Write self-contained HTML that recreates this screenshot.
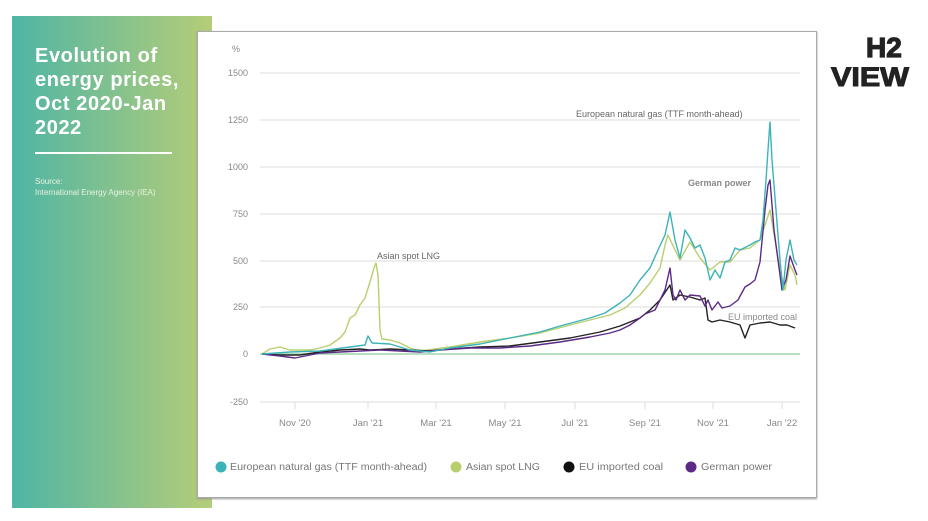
<!DOCTYPE html>
<html><head><meta charset="utf-8"><style>
body{margin:0;width:928px;height:521px;background:#fff;overflow:hidden;font-family:"Liberation Sans",sans-serif;position:relative}
.panel{position:absolute;left:12px;top:16px;width:200px;height:492px;background:linear-gradient(90deg,#4fb5a5,#b5cd78)}
.title{position:absolute;left:35px;top:44px;color:#fff;font-size:20px;line-height:24px;font-weight:bold;letter-spacing:0.6px}
.rule{position:absolute;left:35px;top:152px;width:137px;height:2px;background:#fff}
.src{position:absolute;left:35px;top:176px;color:#e8f2e0;font-size:8px;line-height:11px}
.box{position:absolute;left:197px;top:31px;width:618px;height:465px;background:#fff;border:1px solid #aaa;box-shadow:0 1px 2px #999}
</style></head><body>
<div class="panel"></div>
<div class="title">Evolution of<br>energy prices,<br>Oct 2020-Jan<br>2022</div>
<div class="rule"></div>
<div class="src">Source:<br>International Energy Agency (IEA)</div>
<div class="box"></div>
<svg width="928" height="521" style="position:absolute;left:0;top:0" font-family="Liberation Sans, sans-serif">
<g stroke="#ddd" stroke-width="1">
<line x1="260" x2="800" y1="73" y2="73"/><line x1="260" x2="800" y1="120" y2="120"/><line x1="260" x2="800" y1="167" y2="167"/><line x1="260" x2="800" y1="214" y2="214"/><line x1="260" x2="800" y1="261" y2="261"/><line x1="260" x2="800" y1="307" y2="307"/><line x1="260" x2="800" y1="402" y2="402"/>
<line x1="295" x2="295" y1="402" y2="409"/><line x1="368" x2="368" y1="402" y2="409"/><line x1="436" x2="436" y1="402" y2="409"/><line x1="505" x2="505" y1="402" y2="409"/><line x1="575" x2="575" y1="402" y2="409"/><line x1="645" x2="645" y1="402" y2="409"/><line x1="713" x2="713" y1="402" y2="409"/><line x1="782" x2="782" y1="402" y2="409"/>
</g>
<line x1="260" x2="800" y1="354" y2="354" stroke="#9fd4a8" stroke-width="1.5"/>
<g font-size="9" fill="#888" text-anchor="end">
<text x="240" y="52">%</text>
<text x="248" y="76">1500</text><text x="248" y="123">1250</text><text x="248" y="170">1000</text><text x="248" y="217">750</text><text x="248" y="264">500</text><text x="248" y="310">250</text><text x="248" y="357">0</text><text x="248" y="405">-250</text>
</g>
<g font-size="9.5" fill="#888" text-anchor="middle">
<text x="295" y="426">Nov '20</text><text x="368" y="426">Jan '21</text><text x="436" y="426">Mar '21</text><text x="505" y="426">May '21</text><text x="575" y="426">Jul '21</text><text x="645" y="426">Sep '21</text><text x="713" y="426">Nov '21</text><text x="782" y="426">Jan '22</text>
</g>
<g fill="none" stroke-width="1.4" stroke-linejoin="round">
<polyline stroke="#b9cf6e" points="262,354 270,349 280,347 290,350 300,350 310,350 320,348 330,345 340,338 345,332 350,318 355,315 360,305 365,298 370,282 374,268 376,263 378,275 380,330 382,339 390,340 400,343 410,348 420,351 435,349 450,347 480,342 510,338 540,333 570,325 590,320 610,315 625,308 640,295 650,283 660,268 665,245 668,235 675,250 680,260 690,242 700,258 710,270 720,262 730,262 740,250 750,248 760,240 765,225 770,210 775,240 780,270 785,290 790,265 795,275 797,285"/>
<polyline stroke="#222" points="262,354 280,355 300,355 320,352 340,350 360,349 370,350 390,349 410,350 430,351 450,349 480,347 510,346 540,342 570,338 600,332 620,326 640,318 650,310 660,300 670,285 673,300 680,295 690,297 700,300 705,298 708,320 712,322 720,320 730,322 740,325 745,338 750,325 760,323 770,322 780,325 787,325 795,328"/>
<polyline stroke="#5c2a86" points="262,354 280,356 295,358 300,357 320,353 340,352 360,351 380,350 400,351 420,352 440,350 470,348 500,348 530,346 560,342 590,337 610,333 620,330 630,325 640,318 645,314 655,310 665,290 670,268 673,295 676,300 680,290 685,300 690,295 700,296 705,306 708,300 712,310 718,302 722,308 730,306 738,300 745,287 750,284 755,280 760,262 765,210 768,185 770,180 774,230 778,260 782,290 786,280 790,256 795,270 797,275"/>
<polyline stroke="#3bb3b8" points="262,354 290,352 320,351 350,347 365,345 368,336 372,343 390,344 410,350 430,352 450,348 480,344 510,338 540,332 560,326 575,322 590,318 605,313 620,303 630,295 640,280 650,268 658,250 665,235 670,212 675,240 680,258 685,230 690,238 695,248 700,245 705,258 710,280 715,270 720,278 725,262 730,260 735,248 740,250 750,245 755,242 760,240 763,220 766,180 768,150 770,122 772,160 776,210 780,260 783,290 786,260 790,240 794,260 797,265"/>
</g>
<g font-size="9" fill="#666">
<text x="576" y="117">European natural gas (TTF month-ahead)</text>
<text x="377" y="259">Asian spot LNG</text>
<text x="688" y="186" font-weight="bold" fill="#888">German power</text>
<text x="728" y="320" fill="#888">EU imported coal</text>
</g>
<g font-size="10" fill="#777">
<circle cx="221" cy="467" r="5.5" fill="#3bb3b8"/><text x="230" y="470" textLength="197" lengthAdjust="spacingAndGlyphs">European natural gas (TTF month-ahead)</text>
<circle cx="456" cy="467" r="5.5" fill="#b9cf6e"/><text x="466" y="470" textLength="74" lengthAdjust="spacingAndGlyphs">Asian spot LNG</text>
<circle cx="569" cy="467" r="5.5" fill="#111"/><text x="579" y="470" textLength="84" lengthAdjust="spacingAndGlyphs">EU imported coal</text>
<circle cx="691" cy="467" r="5.5" fill="#5c2a86"/><text x="701" y="470" textLength="71" lengthAdjust="spacingAndGlyphs">German power</text>
</g>
<text x="866" y="57" font-size="28" font-weight="900" fill="#222" stroke="#222" stroke-width="1.2">H2</text>
<text x="831" y="86" font-size="27" font-weight="900" fill="#222" stroke="#222" stroke-width="1" textLength="78" lengthAdjust="spacingAndGlyphs">VIEW</text>
</svg>
</body></html>
